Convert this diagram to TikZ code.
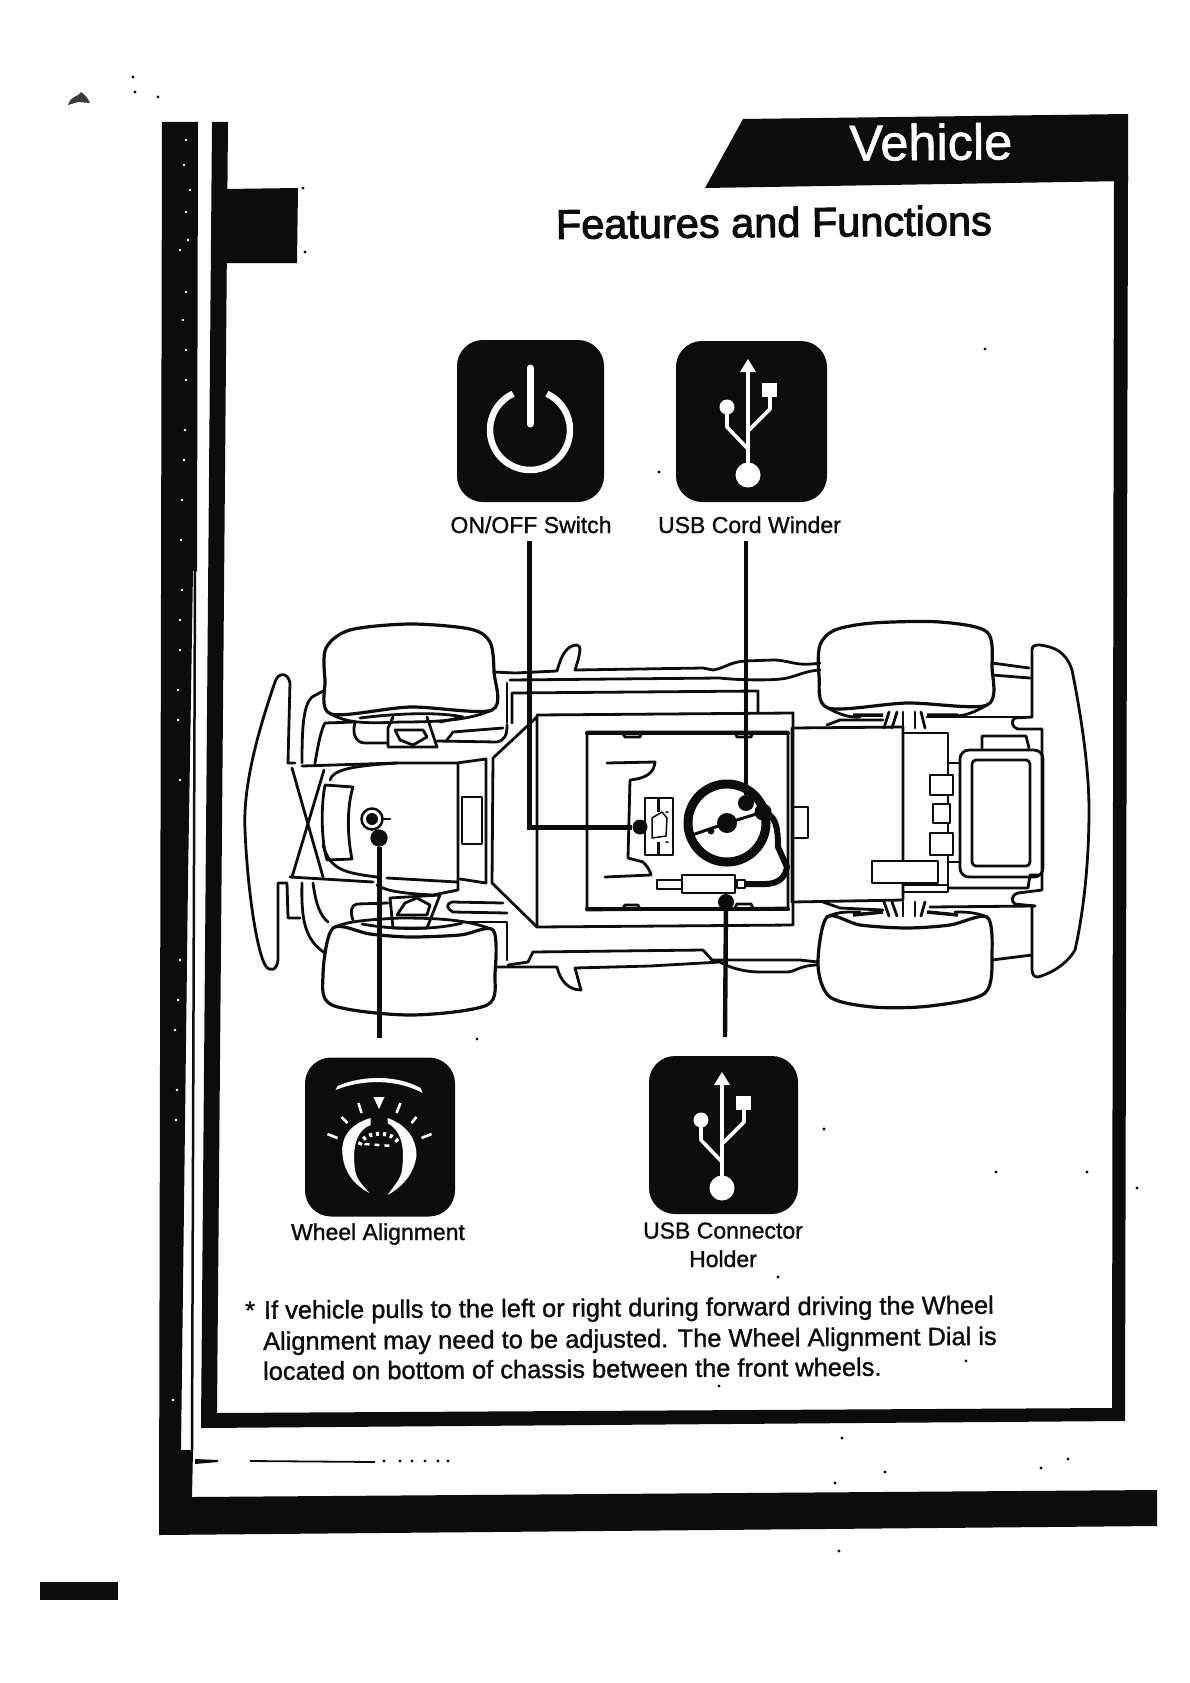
\documentclass[tikz,border=0pt]{standalone}
\usepackage{fontspec}
\setmainfont{Liberation Sans}
\newfontfamily\scanfont[FakeBold=1.2]{Liberation Sans}
\newfontfamily\headfont[FakeBold=2.4]{Liberation Sans}
\usetikzlibrary{positioning,calc}
\definecolor{vink}{HTML}{0C0C0C}
\tikzset{
  part/.style={line width=2.8pt,draw=vink,line join=round,line cap=round},
  tyre/.style={line width=3.2pt,draw=vink,fill=white,line join=round},
  heavy/.style={line width=4pt,draw=vink,line cap=round},
  lead/.style={line width=5pt,draw=vink},
  dotb/.style={circle,fill=vink,inner sep=0pt,minimum size=16pt},
  iconbg/.style={fill=vink,rounded corners=26pt,inner sep=0pt},
  glyph/.style={draw=white,line width=3.6pt,line join=round},
  lbl/.style={font=\scanfont\fontsize{23}{23}\selectfont,text=vink,anchor=base,inner sep=0pt},
  para/.style={font=\scanfont\fontsize{25.4}{25.4}\selectfont,text=vink,anchor=base west,inner sep=0pt,rotate=0.4},
}
\newcommand{\usbglyph}[2]{%
  \begin{scope}[shift={(#1,#2)}]
    \fill[white] (0,0) -- (8,13) -- (-8,13) -- cycle;
    \draw[glyph] (0,10) -- (0,110);
    \fill[white] (0,116) circle (12.5);
    \fill[white] (14,24) rectangle (29,38);
    \draw[glyph] (22,36) -- (22,50) -- (0,72);
    \fill[white] (-21,48) circle (7.5);
    \draw[glyph] (-21,50) -- (-21,68) -- (0,90);
  \end{scope}}
\begin{document}
\begin{tikzpicture}[x=1pt,y=-1pt]
  \useasboundingbox (0,0) rectangle (1190,1683);
  \fill[white] (0,0) rectangle (1190,1683);
  % frame
  \fill[vink] (162,122) -- (198,122) -- (197,571) -- (193,571) -- (188,880) -- (181,1450) -- (193,1450) -- (192,1497)
    -- (1157,1490) -- (1157,1526) -- (159,1535) -- cycle;
  \draw[vink,line width=2.5pt] (195,571) -- (192,1450);
  \fill[vink] (212,122) -- (228,122) -- (217,1413) -- (1112,1408) -- (1114,175) -- (1128,175) -- (1125,1421) -- (201,1428) -- cycle;
  \fill[vink] (226,189) -- (298,188) -- (297,263) -- (226,263) -- cycle;
  \fill[vink] (743,119) -- (1128,114) -- (1128,181) -- (705,188) -- cycle;
  \fill[vink] (40,1582) rectangle (118,1600);
  \fill[vink!80] (68,105) .. controls (72,94) and (78,98) .. (81,92) .. controls (84,94) and (88,98) .. (90,103) -- (78,102) -- cycle;
  \fill[vink] (195,1459) -- (218,1460) -- (218,1462) -- (195,1464) -- cycle;
  \draw[vink,line width=1.8pt] (250,1461) -- (375,1462);
  \foreach \x/\y in {133/77,135/92,158/97,303/188,305/252,985/349,659/472,1137/1188,824/1129,996/1172,1087/1172,842/1438,835/1483,885/1472,1041/1468,1068/1459,839/1551,477/1039,778/1277,966/1361,719/1386,384/1461,400/1461,412/1461,425/1461,438/1461,448/1461}
    \fill[vink] (\x,\y) circle (1.6);
  \foreach \x/\y in {186/140,184/165,190/190,186/212,188/240,180/250,186/292,183/320,186/350,186/380,185/430,184/460,182/500,181/540,182/590,180/620,180/650,178/690,178/720,180/780,180/960,178/1000,175/1030,177/1090,176/1120,173/1400}
    \fill[white] (\x,\y) circle (1.4);
  % headings
  \node[font=\scanfont\fontsize{50.5}{50.5}\selectfont,text=white,anchor=base,inner sep=0pt,rotate=0.5] (hdr) at (931,160) {Vehicle};
  \node[font=\headfont\fontsize{41.5}{41.5}\selectfont,text=vink,anchor=base,inner sep=0pt,rotate=0.5] (ttl) at (774,237) {Features and Functions};
  % icons
  \node[iconbg,minimum width=147pt,minimum height=162pt] (pwr) at (530.5,421) {};
  \node[iconbg,minimum width=151pt,minimum height=161pt] (usba) at (751.5,421.5) {};
  \node[iconbg,minimum width=150pt,minimum height=159pt] (whl) at (380,1137) {};
  \node[iconbg,minimum width=149pt,minimum height=158pt] (usbb) at (723.5,1135) {};
  \draw[white,line width=6.5pt] (530,430) ++(-65:40) arc[start angle=-65,end angle=245,radius=40];
  \draw[white,line width=7pt,line cap=round] (530,368) -- (530,424);
  \usbglyph{748}{359}
  \usbglyph{722}{1072}
  \begin{scope}[xshift=2.5pt]
  \fill[white] (333,1090) .. controls (360,1079) and (395,1079) .. (420,1093) -- (418,1088) .. controls (395,1075) and (360,1075) .. (335,1086) -- cycle;
  \fill[white] (371,1097) -- (382,1097) -- (376.5,1109) -- cycle;
  \foreach \a/\b/\c/\d in {356/1103/359/1113,398/1103/394/1113,339/1117/345/1123,414/1117/409/1123,325/1134/335/1138,429/1134/419/1138}
    \draw[white,line width=2.6pt] (\a,\b) -- (\c,\d);
  \fill[white] (368,1118) .. controls (345,1125) and (338,1140) .. (340,1155) .. controls (342,1175) and (355,1187) .. (367,1193)
    .. controls (360,1185) and (352,1178) .. (352,1165) .. controls (350,1145) and (355,1130) .. (368,1125) -- cycle;
  \fill[white] (385,1118) .. controls (405,1125) and (414,1140) .. (414,1155) .. controls (412,1175) and (398,1188) .. (385,1195)
    .. controls (392,1185) and (400,1178) .. (400,1165) .. controls (402,1145) and (398,1130) .. (385,1123) -- cycle;
  \draw[white,line width=4pt,dash pattern=on 3pt off 4pt] (357,1145) .. controls (362,1130) and (392,1130) .. (397,1145);
  \draw[white,line width=2.5pt,dash pattern=on 5pt off 5pt] (362,1144) -- (390,1146);
  \end{scope}
  % labels
  \node[lbl] (pwrlbl) at (531,533) {ON/OFF Switch};
  \node[lbl] (usbalbl) at (749.5,533) {USB Cord Winder};
  \node[lbl] (whllbl) at (378,1240) {Wheel Alignment};
  \node[lbl] (usbblbl) at (723,1238.5) {USB Connector};
  \node[lbl] (hldlbl) at (723,1267) {Holder};
  \node[para] (ln1) at (245,1319) {*\hspace{9pt}If vehicle pulls to the left or right during forward driving the Wheel};
  \node[para] (ln2) at (263,1350) {Alignment may need to be adjusted. The Wheel Alignment Dial is};
  \node[para] (ln3) at (263,1380) {located on bottom of chassis between the front wheels.};
  % front bumper and bonnet
  \draw[part] (295,763) -- (288,763) -- (290,683) .. controls (288,672) and (278,672) .. (275,682) .. controls (255,740) and (243,790) .. (245,830)
    .. controls (247,880) and (255,945) .. (265,965) .. controls (270,973) and (277,970) .. (278,960) -- (278,883) -- (287,883) -- (288,918) -- (300,918);
  \draw[part] (302,763) .. controls (302,730) and (303,705) .. (312,697) -- (325,690);
  \draw[part] (302,883) .. controls (301,920) and (305,940) .. (325,953);
  \draw[part] (313,883) .. controls (316,905) and (320,915) .. (328,922);
  \draw[part] (315,763) .. controls (318,745) and (321,730) .. (325,723) -- (355,722);
  \draw[part] (302,766) -- (397,763) -- (457,763) -- (486,759) -- (486,883) -- (460,879);
  \draw[part] (290,877) -- (373,882);
  \draw[part] (292,768) -- (323,877);
  \draw[part] (324,770) -- (292,877);
  \draw[part] (330,780) .. controls (333,770) and (350,766) .. (397,763);
  \draw[part] (323,845) .. controls (330,870) and (345,873) .. (377,877);
  \draw[part] (387,878) -- (457,882) (377,885) .. controls (385,890) and (395,893) .. (433,895) -- (458,890) -- (458,763);
  \draw[part] (325,785) -- (353,787) .. controls (346,810) and (348,840) .. (352,859) -- (327,860) .. controls (321,840) and (321,805) .. (325,785);
  \draw[part] (462,797) rectangle (482,844);
  % front suspension
  \draw[part] (393,717) -- (388,728) -- (388,747) -- (437,747) -- (427,717);
  \draw[part] (355,723) .. controls (352,732) and (355,743) .. (365,743) -- (388,743);
  \draw[part] (395,730) -- (423,730) -- (427,737) -- (413,745) -- (400,740) -- cycle;
  \draw[part] (437,741) -- (497,742) .. controls (505,740) and (507,735) .. (507,725) (447,740) -- (453,732) -- (503,728);
  \draw[part] (507,683) -- (507,723);
  \draw[part] (390,898) -- (440,895) -- (427,928) -- (393,928) -- cycle;
  \draw[part] (353,920) .. controls (350,912) and (351,905) .. (357,904) -- (388,903);
  \draw[part] (397,915) -- (427,915) -- (430,905) -- (417,898) -- (405,903) -- cycle;
  \draw[part] (503,903) -- (452,902) .. controls (446,904) and (446,908) .. (453,912) -- (507,913);
  \draw[part] (468,922) -- (507,922) -- (507,960);
  % tyres
  \draw[tyre] plot[smooth cycle] coordinates {(326,648) (350,630) (410,624) (470,629) (490,642) (494,672) (492,710) (410,707) (331,714) (325,680)};
  \draw[part] (331,714) .. controls (345,722) and (360,724) .. (400,722) .. controls (440,722) and (470,720) .. (492,710);
  \draw[part] (360,718) .. controls (400,713) and (440,712) .. (463,717) -- (440,722);
  \draw[tyre] plot[smooth cycle] coordinates {(333,928) (370,934) (410,937) (460,935) (493,930) (495,973) (487,1005) (410,1015) (332,1005) (323,975)};
  \draw[part] (333,928) .. controls (345,922) and (360,920) .. (400,918) .. controls (440,918) and (470,920) .. (493,930);
  \draw[part] (362,924) .. controls (400,931) and (440,929) .. (462,923);
  \draw[tyre] plot[smooth cycle] coordinates {(820,645) (835,630) (873,623) (940,622) (987,632) (992,667) (987,705) (907,703) (828,708) (819,675)};
  \draw[part] (828,708) .. controls (838,714) and (850,718) .. (860,717) (987,705) .. controls (975,712) and (965,716) .. (955,716);
  \draw[tyre] plot[smooth cycle] coordinates {(827,917) (860,925) (907,928) (950,925) (987,917) (992,953) (985,993) (930,1006) (873,1007) (830,997) (818,965)};
  \draw[part] (827,917) .. controls (838,911) and (850,912) .. (860,912) (987,917) .. controls (975,912) and (965,912) .. (955,912);
  % sills
  \draw[part] (494,672) -- (515,673) -- (557,671) .. controls (560,660) and (565,645) .. (577,645) .. controls (582,645) and (580,655) .. (575,670)
    -- (703,668) -- (713,670) .. controls (725,668) and (730,662) .. (745,661) -- (773,660) .. controls (790,660) and (795,667) .. (820,663);
  \draw[part] (510,680) -- (720,678) .. controls (735,680) and (775,681) .. (787,678) .. controls (800,675) and (805,671) .. (820,670);
  \draw[part] (512,723) -- (512,693) -- (758,691) -- (758,712);
  \draw[part] (495,967) -- (557,967) .. controls (560,980) and (568,990) .. (581,990) -- (575,968) -- (650,966) -- (720,962)
    .. controls (730,968) and (745,972) .. (760,972) -- (787,972) .. controls (795,972) and (800,965) .. (818,965);
  \draw[part] (508,965) -- (528,962) -- (533,952) -- (703,950) -- (712,960) -- (775,960) -- (800,960) -- (818,962);
  % chassis
  \draw[part] (537,717) -- (493,758) -- (492,883) -- (537,927);
  \draw[part] (537,715) -- (793,713) -- (793,925) -- (537,927) -- cycle;
  \draw[part] (587,732) -- (788,732) -- (788,908) -- (587,910) -- cycle;
  \draw[part] (622,732) -- (625,737) -- (640,737) -- (642,732) (735,732) -- (737,737) -- (751,737) -- (753,732);
  \draw[part] (622,910) -- (625,905) -- (638,905) -- (640,910) (735,908) -- (737,904) -- (751,904) -- (753,908);
  \draw[heavy] (587,733) -- (788,733) (587,909) -- (788,909);
  \draw[part] (607,763) -- (655,762) .. controls (654,772) and (648,778) .. (630,780) -- (628,858) -- (643,862) .. controls (647,866) and (650,870) .. (651,875) -- (605,877);
  \draw[part] (645,798) rectangle (673,855);
  \draw[vink,line width=3pt] (658,798) -- (658,812) (658,842) -- (658,855);
  \draw[part,line width=1.5pt] (652,818) -- (662,812) -- (667,818) -- (666,836) -- (652,838) -- cycle (666,812) -- (668,812) (666,842) -- (668,842);
  % usb cord winder and holder
  \draw[vink,line width=9pt] (727,823) circle (39);
  \fill[vink] (727,823) circle (10);
  \fill[vink] (711,831) circle (3.5);
  \draw[vink,line width=3pt] (692,835) -- (727,823) -- (763,812);
  \fill[vink] (763,812) circle (8.5);
  \draw[vink,line width=6pt,line join=round] (763,812) .. controls (775,815) and (778,825) .. (778,847) -- (787,867) .. controls (785,880) and (775,884) .. (765,884) -- (745,884);
  \draw[part,fill=white] (657,880) -- (683,880) -- (683,889) -- (657,889) -- cycle;
  \draw[part,fill=white] (682,875) -- (735,875) -- (735,893) -- (682,893) -- cycle;
  \draw[part] (737,880) rectangle (745,888);
  % rear axle area
  \draw[part] (927,717) -- (1032,717);
  \draw[vink,line width=3.5pt] (853,715) -- (883,715) (927,715) -- (958,715) (853,915) -- (883,912) (927,912) -- (958,915);
  \draw[part] (827,725) -- (840,720) -- (883,720) (823,902) -- (840,908) -- (883,910);
  \foreach \x/\u/\v in {884/889/893,892/897/897,903/903/903,915/915/915,925/921/921}{
    \draw[part] (\x,728) -- (\u,712);
    \draw[part] (\x,902) -- (\u,916);}
  \draw[part] (792,728) -- (903,727) -- (903,900) -- (792,902) -- cycle;
  \draw[part] (792,807) -- (808,807) -- (808,838) -- (792,838);
  \draw[part] (903,733) -- (948,733) -- (948,892) -- (903,892);
  \draw[part] (948,763) -- (960,763) (948,862) -- (960,862) (903,885) -- (948,885);
  \draw[part,fill=white] (872,861) rectangle (938,883);
  \draw[part,fill=white] (930,775) rectangle (953,795);
  \draw[part,fill=white] (933,804) rectangle (950,823);
  \draw[part,fill=white] (930,833) rectangle (953,855);
  \draw[part,rounded corners=9pt] (960,750) rectangle (1043,877);
  \draw[part,rounded corners=4pt] (972,760) rectangle (1030,866);
  \draw[part] (982,748) -- (982,736) -- (1026,736) -- (1029,748);
  \draw[part] (1032,717) -- (1015,718) .. controls (1011,720) and (1011,727) .. (1018,729) -- (1042,729) -- (1042,890) -- (1018,893) .. controls (1011,895) and (1011,902) .. (1015,904) -- (1035,906);
  \draw[part] (930,907) -- (1035,906) (948,888) -- (1028,888) -- (1030,875) -- (1040,875);
  % rear bumper
  \draw[part] (1032,717) -- (1032,650) .. controls (1032,645) and (1036,645) .. (1040,645) .. controls (1055,647) and (1066,652) .. (1072,670)
    .. controls (1082,720) and (1089,770) .. (1089,810) .. controls (1089,860) and (1084,910) .. (1075,950) .. controls (1068,962) and (1055,972) .. (1038,977)
    .. controls (1034,977) and (1032,975) .. (1032,968) -- (1032,906);
  \draw[part] (992,663) -- (1029,668) (992,675) -- (1030,678) (992,960) -- (1032,955);
  % connectors
  \coordinate (pwrtop) at (529,541);
  \coordinate (usbtop) at (746,541);
  \coordinate (whlend) at (379,1038);
  \coordinate (hldend) at (725,1037);
  \node[dotb,minimum size=15pt] (pwrdot) at (640,827) {};
  \node[dotb] (usbdot) at (746,803) {};
  \node[dotb,minimum size=17pt] (whldot) at (379,838) {};
  \node[dotb] (hlddot) at (726,902) {};
  \node[circle,draw=vink,line width=2.5pt,fill=white,inner sep=0pt,minimum size=21pt] (whlknob) at (372,819) {};
  \draw[part] (whlknob.east) -- (390,819);
  \fill[vink] (whlknob) circle (6);
  \node[dotb,minimum size=17pt] (whldot2) at (379,838) {};
  \draw[lead] (pwrtop) |- (pwrdot);
  \draw[lead,line width=4.4pt] (usbtop) -- (usbdot);
  \draw[lead] (whldot) -- (whlend);
  \draw[lead,line width=4.4pt] (hlddot) -- (hldend);
\end{tikzpicture}
\end{document}
